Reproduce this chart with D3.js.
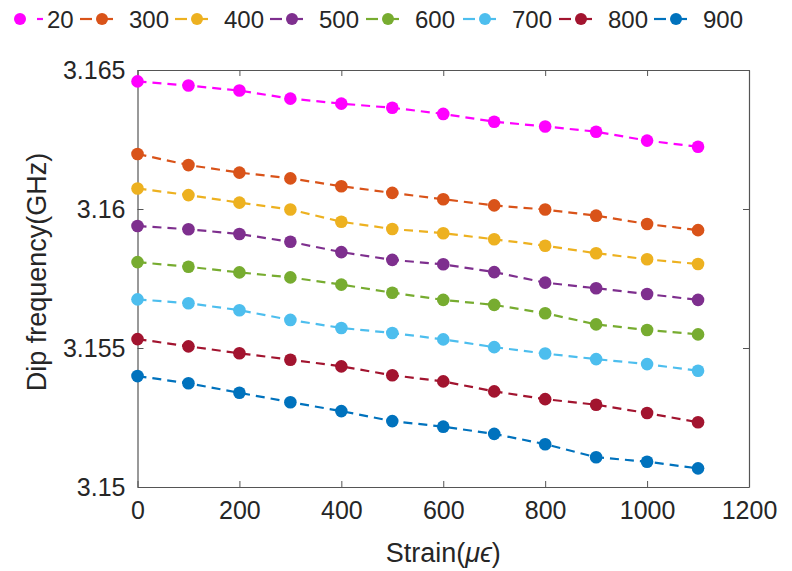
<!DOCTYPE html>
<html>
<head>
<meta charset="utf-8">
<script src="https://cdn.jsdelivr.net/npm/d3@7"></script>
<style>
  body { margin: 0; background: #fff; }
  text { font-family: "Liberation Sans", Arial, sans-serif; fill: #262626; }
</style>
</head>
<body>
<div id="chart"></div>
<script>
const strain = [0, 100, 200, 300, 400, 500, 600, 700, 800, 900, 1000, 1100];
const temps = ["20", "300", "400", "500", "600", "700", "800", "900"];
const freq20 = [3.16459, 3.16444, 3.16426, 3.16397, 3.16379, 3.16364, 3.16342, 3.16314, 3.16297, 3.16278, 3.16246, 3.16224];
const freq300 = [3.16198, 3.16158, 3.16131, 3.16110, 3.16082, 3.16058, 3.16035, 3.16013, 3.15998, 3.15976, 3.15946, 3.15924];
const freq400 = [3.16074, 3.16050, 3.16023, 3.15998, 3.15954, 3.15928, 3.15913, 3.15891, 3.15868, 3.15841, 3.15819, 3.15802];
const freq500 = [3.15939, 3.15927, 3.15910, 3.15882, 3.15845, 3.15817, 3.15801, 3.15773, 3.15735, 3.15715, 3.15694, 3.15673];
const freq600 = [3.15809, 3.15792, 3.15772, 3.15754, 3.15728, 3.15699, 3.15673, 3.15655, 3.15625, 3.15585, 3.15565, 3.15549];
const freq700 = [3.15675, 3.15661, 3.15636, 3.15601, 3.15572, 3.15554, 3.15531, 3.15503, 3.15480, 3.15460, 3.15442, 3.15418];
const freq800 = [3.15532, 3.15506, 3.15481, 3.15458, 3.15434, 3.15402, 3.15380, 3.15344, 3.15316, 3.15296, 3.15266, 3.15233];
const freq900 = [3.15399, 3.15373, 3.15339, 3.15305, 3.15273, 3.15237, 3.15217, 3.15191, 3.15154, 3.15107, 3.15091, 3.15067];
const xTicks = [0, 200, 400, 600, 800, 1000, 1200];
const yTicks = [3.15, 3.155, 3.16, 3.165];
const yTickLabels = ["3.15", "3.155", "3.16", "3.165"];

const colors = ["#ff00ff", "#d95319", "#edb120", "#7e2f8e", "#77ac30", "#4dbeee", "#a2142f", "#0072bd"];
const series = [freq20, freq300, freq400, freq500, freq600, freq700, freq800, freq900]
    .map((vals, i) => ({ name: temps[i], color: colors[i], values: vals.map((v, j) => ({ x: strain[j], y: v })) }));

const W = 792, H = 571;
const margin = { top: 70, right: 43, bottom: 84, left: 137.5 };
const width = W - margin.left - margin.right;
const height = H - margin.top - margin.bottom;

const svg = d3.select("#chart").append("svg")
    .attr("width", W)
    .attr("height", H);

const g = svg.append("g")
    .attr("transform", `translate(${margin.left},${margin.top})`);

const x = d3.scaleLinear().domain([0, 1200]).range([0, width]);
const y = d3.scaleLinear().domain([3.15, 3.165]).range([height, 0]);

// axes, MATLAB style box with inward ticks
const tickLen = 6;
const bottomAxis = g.append("g")
    .attr("transform", `translate(0,${height})`)
    .call(d3.axisBottom(x).tickValues(xTicks).tickSizeInner(-tickLen).tickSizeOuter(0).tickPadding(14).tickFormat(d3.format("d")));
const leftAxis = g.append("g")
    .call(d3.axisLeft(y).tickValues(yTicks).tickSizeInner(-tickLen).tickSizeOuter(0).tickPadding(10)
        .tickFormat((d, i) => yTickLabels[i]));
const topAxis = g.append("g")
    .call(d3.axisTop(x).tickValues(xTicks).tickSizeInner(-tickLen).tickSizeOuter(0).tickFormat(""));
const rightAxis = g.append("g")
    .attr("transform", `translate(${width},0)`)
    .call(d3.axisRight(y).tickValues(yTicks).tickSizeInner(-tickLen).tickSizeOuter(0).tickFormat(""));

[bottomAxis, leftAxis, topAxis, rightAxis].forEach(a => {
    a.select(".domain").attr("stroke", "#555").attr("stroke-width", 1.2);
    a.selectAll(".tick line").attr("stroke", "#555");
    a.selectAll(".tick text")
        .style("font-family", "'Liberation Sans', Arial, sans-serif")
        .style("font-size", "25px")
        .attr("fill", "#262626");
});
leftAxis.selectAll(".tick text").attr("dx", "-2");

// series
const line = d3.line().x(d => x(d.x)).y(d => y(d.y));

const groups = g.selectAll(".series")
    .data(series)
    .enter().append("g")
    .attr("class", "series");

groups.append("path")
    .attr("d", d => line(d.values))
    .attr("fill", "none")
    .attr("stroke", d => d.color)
    .attr("stroke-width", 2.2)
    .attr("stroke-dasharray", "9,6");

groups.selectAll("circle")
    .data(d => d.values.map(v => ({ ...v, color: d.color })))
    .enter().append("circle")
    .attr("cx", d => x(d.x))
    .attr("cy", d => y(d.y))
    .attr("r", 6.3)
    .attr("fill", d => d.color);

// axis labels
svg.append("text")
    .attr("x", margin.left + x(600))
    .attr("y", 562)
    .attr("text-anchor", "middle")
    .style("font-size", "27px")
    .html("Strain(<tspan font-style='italic'>μϵ</tspan>)");

svg.append("text")
    .attr("transform", "translate(46,272) rotate(-90)")
    .attr("text-anchor", "middle")
    .style("font-size", "27px")
    .text("Dip frequency(GHz)");

// legend
const legendX = [20, 102, 197, 292, 388, 485, 581, 676];
const legend = svg.append("g").attr("transform", "translate(0,19)");
const items = legend.selectAll(".item")
    .data(series)
    .enter().append("g")
    .attr("class", "item")
    .attr("transform", (d, i) => `translate(${legendX[i]},0)`);

items.append("line")
    .attr("x1", (d, i) => i === 0 ? 17 : -22)
    .attr("x2", (d, i) => i === 0 ? 23 : -10)
    .attr("stroke", d => d.color)
    .attr("stroke-width", 2.2);
items.filter((d, i) => i > 0).append("line")
    .attr("x1", 0).attr("x2", 11)
    .attr("stroke", d => d.color)
    .attr("stroke-width", 2.2);
items.append("circle")
    .attr("r", 6)
    .attr("fill", d => d.color);
items.append("text")
    .attr("x", 27)
    .attr("y", 9)
    .style("font-size", "24px")
    .text(d => d.name);
</script>
</body>
</html>
